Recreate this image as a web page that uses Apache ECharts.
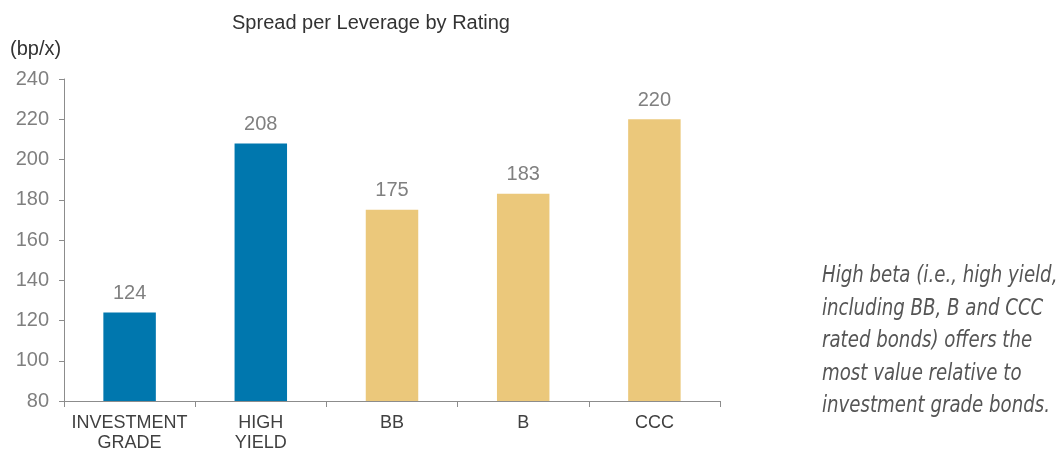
<!DOCTYPE html>
<html>
<head>
<meta charset="utf-8">
<script src="https://cdn.jsdelivr.net/npm/echarts@6/dist/echarts.min.js"></script>
<style>html,body{margin:0;padding:0;background:#fff;}#c{width:1063px;height:449px;}</style>
</head>
<body>
<div id="c"></div>
<script>
const categories = ['INVESTMENT\nGRADE', 'HIGH\nYIELD', 'BB', 'B', 'CCC'];
const values = [124, 208, 175, 183, 220];
const barColors = ['#0077ae', '#0077ae', '#ebc87b', '#ebc87b', '#ebc87b'];
const yTicks = { min: 80, max: 240, interval: 20 };
const titleText = 'Spread per Leverage by Rating';
const unitText = '(bp/x)';
const noteLines = ['High beta (i.e., high yield,', 'including BB, B and CCC', 'rated bonds) offers the', 'most value relative to', 'investment grade bonds.'];

const chart = echarts.init(document.getElementById('c'), null, { renderer: 'canvas' });
chart.setOption({
  animation: false,
  backgroundColor: '#ffffff',
  title: {
    text: titleText,
    left: 366, top: 8, textAlign: 'center',
    textStyle: { fontFamily: 'Liberation Sans, Arial', fontSize: 20, fontWeight: 'normal', color: '#333333' }
  },
  grid: { left: 64, right: 343, top: 79, bottom: 48, containLabel: false, outerBoundsMode: 'none' },
  xAxis: {
    type: 'category', data: categories,
    axisLine: { lineStyle: { color: '#8c8c8c', width: 1 } },
    axisTick: { show: true, length: 6, lineStyle: { color: '#8c8c8c' } },
    axisLabel: { interval: 0, hideOverlap: false, color: '#404040', fontFamily: 'Liberation Sans, Arial', fontSize: 18, lineHeight: 20, margin: 12 }
  },
  yAxis: {
    type: 'value', min: yTicks.min, max: yTicks.max, interval: yTicks.interval,
    name: unitText, nameLocation: 'end', nameGap: 20,
    nameTextStyle: { color: '#333333', fontFamily: 'Liberation Sans, Arial', fontSize: 20, align: 'left', padding: [0, 0, 0, -54] },
    axisLine: { show: true, lineStyle: { color: '#8c8c8c', width: 1 } },
    axisTick: { show: true, length: 5, lineStyle: { color: '#8c8c8c' } },
    splitLine: { show: false },
    axisLabel: { color: '#7f7f7f', fontFamily: 'Liberation Sans, Arial', fontSize: 20, margin: 15 }
  },
  series: [{
    type: 'bar', barWidth: '40%',
    data: values.map((v, i) => ({ value: v, itemStyle: { color: barColors[i] } })),
    label: { show: true, position: 'top', distance: 9, color: '#808080', fontFamily: 'Liberation Sans, Arial', fontSize: 20 }
  }],
  graphic: [{
    type: 'group', x: 822, y: 260, scaleX: 0.79, scaleY: 1,
    children: [{
      type: 'text', x: 0, y: 0,
      style: {
        text: noteLines.join('\n'),
        font: 'italic 23px "DejaVu Sans"',
        fill: '#555555', lineHeight: 32.5
      }
    }]
  }]
});
</script>
</body>
</html>
